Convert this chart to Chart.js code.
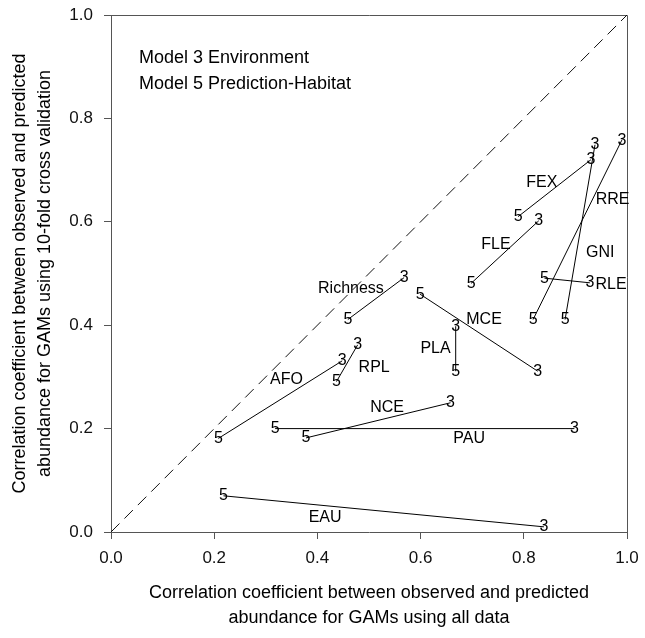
<!DOCTYPE html>
<html lang="en">
<head>
<meta charset="UTF-8">
<title>GAM cross validation vs all data</title>
<script src="https://cdn.jsdelivr.net/npm/chart.js"></script>
<style>
  html, body { margin: 0; padding: 0; background: #fff; }
</style>
</head>
<body>
<canvas id="cvChart" width="645" height="638"></canvas>
<script>
// species / response being modelled
var species = ['FEX', 'RRE', 'GNI', 'FLE', 'RLE', 'Richness', 'MCE', 'PLA', 'AFO', 'RPL', 'NCE', 'PAU', 'EAU'];

// Model 5 (Prediction-Habitat): all data r, 10-fold CV r
var model5X = [0.789, 0.818, 0.880, 0.698, 0.840, 0.459, 0.599, 0.668, 0.208, 0.437, 0.378, 0.318, 0.218];
var model5Y = [0.610, 0.411, 0.411, 0.481, 0.491, 0.411, 0.460, 0.311, 0.181, 0.291, 0.182, 0.200, 0.070];

// Model 3 (Environment): all data r, 10-fold CV r
var model3X = [0.930, 0.990, 0.938, 0.829, 0.928, 0.568, 0.827, 0.668, 0.448, 0.478, 0.658, 0.898, 0.839];
var model3Y = [0.720, 0.758, 0.749, 0.602, 0.482, 0.492, 0.311, 0.398, 0.331, 0.362, 0.250, 0.200, 0.010];

// where each species name sits
var labelX = [0.835, 0.972, 0.948, 0.746, 0.969, 0.465, 0.723, 0.629, 0.340, 0.510, 0.535, 0.694, 0.415];
var labelY = [0.676, 0.642, 0.540, 0.555, 0.479, 0.471, 0.411, 0.355, 0.294, 0.318, 0.241, 0.180, 0.028];

var axisMin = 0, axisMax = 1, axisStep = 0.2;
var legendLines = ['Model 3 Environment', 'Model 5 Prediction-Habitat'];

var FONT = '"Liberation Sans", Arial, sans-serif';
var AXIS_COLOR = '#555';

var datasets = [{
    // 1:1 line
    data: [{x: axisMin, y: axisMin}, {x: axisMax, y: axisMax}],
    showLine: true,
    borderColor: '#111',
    borderWidth: 1,
    borderDash: [12, 7],
    pointRadius: 0
}];
species.forEach(function (name, i) {
    datasets.push({
        label: name,
        data: [{x: model5X[i], y: model5Y[i]}, {x: model3X[i], y: model3Y[i]}],
        showLine: true,
        borderColor: '#000',
        borderWidth: 1,
        pointRadius: 0
    });
});

// top and right edges of the plot box
var framePlugin = {
    id: 'frame',
    beforeDatasetsDraw: function (chart) {
        var a = chart.chartArea, ctx = chart.ctx;
        ctx.save();
        ctx.strokeStyle = AXIS_COLOR;
        ctx.lineWidth = 1;
        ctx.beginPath();
        ctx.moveTo(a.left, Math.round(a.top) + 0.5);
        ctx.lineTo(Math.round(a.right) + 0.5, Math.round(a.top) + 0.5);
        ctx.lineTo(Math.round(a.right) + 0.5, a.bottom + 7);
        ctx.stroke();
        ctx.restore();
    }
};

// "5" / "3" symbols at segment ends, species names and the model key
var textPlugin = {
    id: 'segmentText',
    afterDatasetsDraw: function (chart) {
        var ctx = chart.ctx, xs = chart.scales.x, ys = chart.scales.y;
        ctx.save();
        ctx.fillStyle = '#000';
        ctx.textAlign = 'center';
        ctx.textBaseline = 'middle';
        ctx.font = '16px ' + FONT;
        species.forEach(function (name, i) {
            var pts = chart.getDatasetMeta(i + 1).data;
            ctx.fillText('5', pts[0].x, pts[0].y);
            ctx.fillText('3', pts[1].x, pts[1].y);
            ctx.fillText(name, xs.getPixelForValue(labelX[i]), ys.getPixelForValue(labelY[i]));
        });
        ctx.textAlign = 'left';
        ctx.font = '18px ' + FONT;
        var a = chart.chartArea;
        legendLines.forEach(function (t, k) {
            ctx.fillText(t, a.left + 28, a.top + 43 + k * 26);
        });
        ctx.restore();
    }
};

function tickLabel(v) { return v.toFixed(1); }

new Chart(document.getElementById('cvChart').getContext('2d'), {
    type: 'scatter',
    data: { datasets: datasets },
    options: {
        responsive: false,
        animation: false,
        layout: { padding: { top: 15, right: 18, left: 0, bottom: 0 } },
        plugins: { legend: { display: false }, tooltip: { enabled: false } },
        scales: {
            x: {
                type: 'linear',
                min: axisMin, max: axisMax,
                ticks: { stepSize: axisStep, callback: tickLabel, padding: 9, color: '#111', font: { family: FONT, size: 17 } },
                grid: { drawOnChartArea: false, tickLength: 7, color: AXIS_COLOR },
                border: { color: AXIS_COLOR },
                title: {
                    display: true,
                    text: ['Correlation coefficient between observed and predicted', 'abundance for GAMs using all data'],
                    color: '#000',
                    font: { family: FONT, size: 18, lineHeight: 25 / 18 },
                    padding: { top: 0, bottom: 7.5 }
                },
                // fixed axis band; tick labels may overhang the plot edges
                afterFit: function (scale) {
                    scale.height = 106;
                    scale.paddingLeft = 0;
                    scale.paddingRight = 0;
                }
            },
            y: {
                type: 'linear',
                min: axisMin, max: axisMax,
                ticks: { stepSize: axisStep, callback: tickLabel, padding: 11, color: '#111', font: { family: FONT, size: 17 } },
                grid: { drawOnChartArea: false, tickLength: 7, color: AXIS_COLOR },
                border: { color: AXIS_COLOR },
                title: {
                    display: true,
                    text: ['Correlation coefficient between observed and predicted', 'abundance for GAMs using 10-fold cross validation'],
                    color: '#000',
                    font: { family: FONT, size: 18, lineHeight: 25 / 18 },
                    padding: { top: 7.5, bottom: 0 }
                },
                afterFit: function (scale) {
                    scale.width = 111;
                    scale.paddingTop = 0;
                    scale.paddingBottom = 0;
                }
            }
        }
    },
    plugins: [framePlugin, textPlugin]
});
</script>
</body>
</html>
